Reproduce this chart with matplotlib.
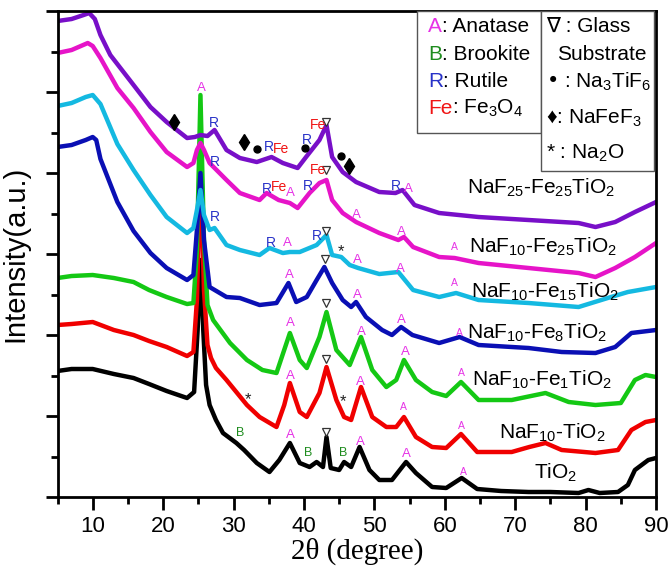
import matplotlib
matplotlib.use("Agg")
import matplotlib.pyplot as plt
from matplotlib.ticker import MultipleLocator, NullFormatter
from matplotlib.patches import Rectangle

plt.rcParams["font.family"] = ["Liberation Sans", "DejaVu Sans"]
plt.rcParams["mathtext.default"] = "regular"

# XRD traces: 2theta (deg) and intensity (a.u., stacked)
TIO2_X = [5, 7, 10, 13, 15.8, 18, 20.5, 23.4, 24.4, 24.9, 25.3, 25.7, 26.1, 26.6, 27.5,
          28.5, 30.4, 31.5, 33.3, 35.1, 36.5, 38, 39.4, 40.8, 41.8, 42.7, 43.2, 43.8, 45,
          45.7, 46.7, 47.9, 49.3, 50.7, 52.5, 54.5, 55.9, 58.2, 60.2, 62.4, 64.6, 68, 71.9,
          75, 79, 80.4, 82, 84.6, 86, 87, 88.9, 90]
TIO2_Y = [126, 128, 128, 123, 119, 113, 106, 99, 105, 167, 237, 167, 112, 92, 77,
          64, 54, 47, 34, 25, 37, 54, 34, 30, 35, 30, 60, 29, 27,
          35, 30, 50, 27, 17, 17, 35, 24, 10, 9, 19, 8, 6, 5,
          5, 4, 7, 4, 5, 12, 27, 37, 39]

NAF10_X = [5, 7, 10, 13, 15.8, 18, 20.5, 23.4, 24.3, 24.8, 25.3, 25.8, 26.3, 26.8, 27.5,
           29, 31.9, 33.7, 36.1, 37.2, 38, 39.4, 40.4, 42.2, 43.2, 44.6, 45.7, 46.7, 48.1,
           49.7, 51.7, 53.1, 54.2, 55.9, 58.2, 60.2, 62.3, 64.6, 69.5, 72, 74.3, 76.6, 81.4,
           84.6, 86.5, 88.5, 90]
NAF10_Y = [172, 173, 175, 167, 162, 156, 150, 141, 145, 197, 332, 207, 152, 139, 129,
           117, 92, 80, 70, 92, 114, 85, 80, 104, 130, 97, 80, 77, 110,
           80, 70, 70, 80, 60, 50, 49, 63, 45, 45, 50, 54, 47, 44,
           47, 67, 75, 77]

FE1_X = [5, 7, 10, 13, 15.8, 18, 20.5, 23.4, 24.3, 24.8, 25.3, 25.8, 26.3, 27.1, 29.5,
         31.9, 34.1, 36.1, 38, 39.4, 40.4, 42.2, 43.2, 44.6, 46.5, 48.1, 49.7, 51.7, 53.1,
         54.2, 55.9, 58.2, 60.2, 62.3, 64.8, 69.5, 74.3, 77.6, 81.4, 85, 87, 88.5, 90]
FE1_Y = [219, 221, 222, 219, 215, 207, 200, 193, 194, 247, 402, 257, 192, 177, 154,
         137, 127, 124, 164, 137, 129, 160, 185, 147, 132, 160, 127, 110, 117,
         137, 117, 105, 101, 115, 97, 97, 104, 95, 92, 94, 117, 122, 120]

FE8_X = [5, 7, 9, 10, 10.5, 11.1, 13.5, 15.8, 18.2, 20.5, 23.4, 24.3, 24.8, 25.3, 25.8,
         26.6, 29, 30.9, 33.7, 36.1, 37.8, 38.9, 40.4, 41.8, 42.9, 44, 45.5, 46.7, 47.4,
         48.8, 51.1, 52.5, 53.8, 55.4, 59.2, 62.1, 64.8, 71.9, 76.6, 81.4, 84.2, 86.5, 90]
FE8_Y = [350, 352, 357, 360, 357, 338, 295, 266, 244, 229, 217, 222, 267, 324, 257,
         210, 200, 199, 192, 194, 214, 195, 200, 217, 230, 214, 197, 190, 195,
         180, 167, 162, 170, 162, 154, 160, 152, 149, 145, 144, 150, 164, 167]

FE15_X = [5, 7, 9, 10, 11.1, 13.5, 15.8, 18.2, 20.5, 23.4, 24.3, 24.8, 25.3, 25.8, 26.6,
          27.3, 29, 30.9, 33.7, 35.1, 37, 38, 39.4, 41.8, 43.2, 44, 45.3, 46.5, 47.7,
          50.7, 53.4, 55.5, 59.2, 61.6, 64.8, 71.9, 79, 83.6, 86, 90]
FE15_Y = [391, 394, 400, 402, 393, 353, 327, 302, 280, 264, 269, 287, 307, 282, 267,
          269, 252, 247, 242, 249, 244, 245, 245, 252, 262, 242, 240, 232, 229,
          223, 225, 207, 200, 204, 197, 194, 190, 200, 205, 210]

FE25_X = [5, 7, 9.3, 10, 11.1, 13.5, 15.8, 18.2, 20.5, 23.4, 24.3, 24.8, 25.3, 25.8, 26.6,
          29, 30.9, 33.7, 34.7, 36.4, 38, 39.1, 40.8, 42.2, 43.2, 44, 45.5, 47.4, 50.7,
          53.4, 54.2, 55.5, 59.2, 61.4, 64.8, 71.9, 79, 81.4, 84.2, 87, 90]
FE25_Y = [444, 447, 454, 451, 439, 409, 389, 365, 345, 330, 334, 347, 354, 347, 334,
          317, 304, 297, 304, 297, 294, 289, 304, 314, 317, 297, 284, 275, 264,
          257, 260, 250, 240, 239, 234, 229, 224, 220, 229, 240, 254]

NAF25_X = [5, 7, 8.7, 9.5, 10.3, 11.1, 12.5, 15.8, 18.2, 20.5, 23.4, 24.5, 25.3, 26.3, 27.3,
           29, 30.9, 33.3, 35.4, 37, 39.1, 40.3, 42.2, 43.2, 44, 45.5, 47.4, 50.7, 53,
           54, 55.7, 59.2, 64.8, 71.9, 79, 81.4, 84.2, 87, 90]
NAF25_Y = [476, 478, 482, 484, 478, 462, 442, 412, 390, 375, 359, 360, 362, 361, 367,
           347, 339, 335, 340, 334, 329, 340, 357, 372, 340, 325, 315, 305, 304,
           307, 292, 284, 280, 277, 274, 270, 275, 285, 295]

SERIES = [
    (TIO2_X, TIO2_Y, "#000000"),
    (NAF10_X, NAF10_Y, "#f00000"),
    (FE1_X, FE1_Y, "#14c814"),
    (FE8_X, FE8_Y, "#0a0fb4"),
    (FE15_X, FE15_Y, "#14b9e1"),
    (FE25_X, FE25_Y, "#e614c8"),
    (NAF25_X, NAF25_Y, "#780fc8"),
]

LABEL_TEXT = [r"TiO$_2$", r"NaF$_{10}$-TiO$_2$", r"NaF$_{10}$-Fe$_1$TiO$_2$",
              r"NaF$_{10}$-Fe$_8$TiO$_2$", r"NaF$_{10}$-Fe$_{15}$TiO$_2$",
              r"NaF$_{10}$-Fe$_{25}$TiO$_2$", r"NaF$_{25}$-Fe$_{25}$TiO$_2$"]
LABEL_X = [72.6, 67.7, 63.8, 63.1, 63.7, 63.4, 63.1]
LABEL_Y = [24, 64, 117, 164, 205, 250, 309]

# phase markers (x, y)
A_X = [25.5, 54.8, 38.1, 47.4, 53.8, 37.7, 47.6, 53.7, 38.0, 47.6, 53.8,
       38.1, 48.1, 54.4, 38.1, 48.0, 38.1, 48.0, 54.5]
A_Y = [409, 308, 304, 282, 265, 254, 237, 228, 222, 202, 177,
       174, 165, 145, 121, 115, 62, 55, 43]
A_SMALL_X = [61.3, 61.4, 62.1, 62.4, 54.1, 62.4, 62.6]
A_SMALL_Y = [250, 214, 164, 124, 90, 71, 25]
R_X = [27.2, 35.0, 40.4, 53.1, 27.3, 34.7, 40.6, 27.3, 35.3, 41.8]
R_Y = [374, 350, 357, 311, 335, 308, 311, 280, 254, 261]
FE_X = [36.8, 42.0, 36.4, 42.0]
FE_Y = [348, 372, 310, 327]
B_X = [30.9, 40.6, 45.6]
B_Y = [64, 44, 44]
GLASS_X = [43.2, 43.2, 43.2, 43.0, 43.2, 43.2, 43.2]
GLASS_Y = [375, 327, 266, 238, 194, 138, 65]
DOT_X = [33.3, 40.2, 45.3]
DOT_Y = [348, 349, 341]
DIAMOND_X = [21.5, 31.5, 46.4]
DIAMOND_Y = [375, 355, 331]
STAR_X = [45.3, 32.0, 45.6]
STAR_Y = [245, 97, 95]

fig = plt.figure(figsize=(6.71, 5.68), dpi=100)
ax = fig.add_axes([0.0857, 0.125, 0.892, 0.8556])

for xs, ys, col in SERIES:
    ax.plot(xs, ys, color=col, lw=3.2, solid_joinstyle="round")

for s, x, y in zip(LABEL_TEXT, LABEL_X, LABEL_Y):
    ax.text(x, y, s, fontsize=15, ha="left", va="center")

for x, y in zip(A_X, A_Y):
    ax.text(x, y, "A", color="#e632e6", fontsize=9.5, ha="center", va="center")
for x, y in zip(A_SMALL_X, A_SMALL_Y):
    ax.text(x, y, "A", color="#e632e6", fontsize=7.5, ha="center", va="center")
for x, y in zip(R_X, R_Y):
    ax.text(x, y, "R", color="#2832c8", fontsize=10, ha="center", va="center")
for x, y in zip(FE_X, FE_Y):
    ax.text(x, y, "Fe", color="#f01414", fontsize=10, ha="center", va="center")
for x, y in zip(B_X, B_Y):
    ax.text(x, y, "B", color="#1e8c1e", fontsize=9, ha="center", va="center")
for x, y in zip(STAR_X, STAR_Y):
    ax.text(x, y, "*", color="#222222", fontsize=12, ha="center", va="center")
ax.plot(GLASS_X, GLASS_Y, "v", ms=6, mfc="white", mec="#333333", mew=0.9, ls="none")
ax.plot(DOT_X, DOT_Y, "o", ms=5, color="black", ls="none")
ax.plot(DIAMOND_X, DIAMOND_Y, "d", ms=8, color="black", ls="none")

ax.set_xlim(5, 90)
ax.set_ylim(0, 486)
ax.xaxis.set_major_locator(MultipleLocator(10))
ax.xaxis.set_minor_locator(MultipleLocator(5))
ax.yaxis.set_major_locator(MultipleLocator(81))
ax.yaxis.set_minor_locator(MultipleLocator(40.5))
ax.yaxis.set_major_formatter(NullFormatter())
ax.tick_params(which="both", direction="out", width=2, top=False, right=False)
ax.tick_params(which="major", length=9, labelsize=16, pad=5)
ax.tick_params(which="minor", length=5)
for sp in ax.spines.values():
    sp.set_linewidth(2)

ax.set_xlabel("2θ (degree)", family=["Liberation Serif", "DejaVu Serif"], fontsize=21, labelpad=0)
ax.set_ylabel("Intensity(a.u.)", fontsize=21, labelpad=6)

# legend boxes
ax.add_patch(Rectangle((0.6007, 0.749), 0.2072, 0.251, transform=ax.transAxes,
                       facecolor="white", edgecolor="#555555", lw=1, zorder=5))
ax.add_patch(Rectangle((0.8079, 0.6708), 0.1888, 0.3292, transform=ax.transAxes,
                       facecolor="white", edgecolor="#555555", lw=1, zorder=5))

renderer = fig.canvas.get_renderer()


def two_tone(x, y, head, tail, color):
    t = ax.text(x, y, head, color=color, fontsize=15, transform=ax.transAxes,
                va="baseline", zorder=6)
    bb = t.get_window_extent(renderer)
    x2 = ax.transAxes.inverted().transform((bb.x1, bb.y0))[0]
    ax.text(x2, y, tail, fontsize=15, transform=ax.transAxes, va="baseline", zorder=6)


def ypix(py):
    return (497 - py) / 486


two_tone(0.619, ypix(32), "A", ": Anatase", "#e632e6")
two_tone(0.619, ypix(60), "B", ": Brookite", "#1e8c1e")
two_tone(0.619, ypix(87), "R", ": Rutile", "#2832c8")
two_tone(0.619, ypix(114), "Fe", r": Fe$_3$O$_4$", "#f01414")

for x, y, s in [(0.816, 32, "∇ : Glass"), (0.834, 60, "Substrate"),
                (0.816, 88, r"• : Na$_3$TiF$_6$"), (0.816, 124, r"♦: NaFeF$_3$"),
                (0.816, 159, r"* : Na$_2$O")]:
    ax.text(x, ypix(y), s, fontsize=15, transform=ax.transAxes, va="baseline", zorder=6)

fig.savefig("out.png", dpi=100)
